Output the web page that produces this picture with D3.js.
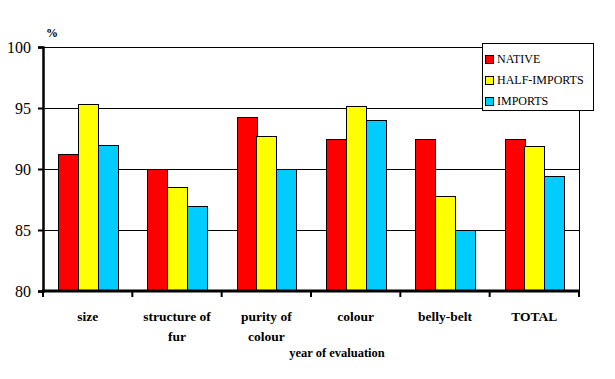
<!DOCTYPE html>
<html><head><meta charset="utf-8">
<script src="https://cdn.jsdelivr.net/npm/d3@7"></script>
<style>body{margin:0;background:#fff}svg{display:block}
svg text{font-family:"Liberation Serif","Times New Roman","DejaVu Serif",serif;fill:#000}</style>
</head><body>
<script>
const categories = [["size"],["structure of","fur"],["purity of","colour"],["colour"],["belly-belt"],["TOTAL"]];
const seriesNames = ["NATIVE","HALF-IMPORTS","IMPORTS"];
const native = [91.2, 90.0, 94.3, 92.5, 92.5, 92.5];
const halfImports = [95.3, 88.5, 92.7, 95.2, 87.8, 91.9];
const imports = [92.0, 87.0, 90.0, 94.0, 85.0, 89.4];
const colors = ["#ff0000","#ffff00","#00ccff"];
const yTicks = [80,85,90,95,100];
const seriesValues = [native, halfImports, imports];

const W=615,H=379;
const m={l:43,r:579,t:47,b:291};
const svg=d3.select("body").append("svg").attr("width",W).attr("height",H);

const x=d3.scaleBand().domain(d3.range(categories.length)).range([m.l,m.r]).paddingInner(0).paddingOuter(0);
const y=d3.scaleLinear().domain([80,100]).range([m.b,m.t]);
const xs=d3.scaleBand().domain(d3.range(3)).range([0,x.bandwidth()]).paddingInner(0).paddingOuter(0.77);

// gridlines
svg.append("g").selectAll("line").data(yTicks.slice(1)).join("line")
 .attr("x1",m.l).attr("x2",m.r).attr("y1",d=>Math.round(y(d))+0.5).attr("y2",d=>Math.round(y(d))+0.5)
 .attr("stroke","#000").attr("stroke-width",1);
// right border
svg.append("line").attr("x1",m.r+0.5).attr("x2",m.r+0.5).attr("y1",m.t).attr("y2",m.b).attr("stroke","#000");

// bars
const g=svg.append("g");
seriesValues.forEach((vals,si)=>{
  g.selectAll(null).data(vals).join("rect")
   .attr("x",(d,i)=>Math.round(x(i)+xs(si))+0.5)
   .attr("y",d=>Math.round(y(d))+0.5)
   .attr("width",Math.round(xs.bandwidth()))
   .attr("height",d=>Math.round(y(80))-Math.round(y(d)))
   .attr("fill",colors[si]).attr("stroke","#000").attr("stroke-width",1);
});

// y axis
const ya=svg.append("g").attr("transform",`translate(${m.l},0)`)
 .call(d3.axisLeft(y).tickValues(yTicks).tickSize(5).tickPadding(7));
ya.attr("font-family",null);
ya.select(".domain").attr("stroke-width",2.5);
ya.selectAll(".tick line").attr("stroke-width",2);
ya.selectAll("text").style("font-size","16px");

// x axis
const xa=svg.append("g").attr("transform",`translate(0,${m.b})`);
xa.append("line").attr("x1",m.l-1).attr("x2",m.r+1).attr("y1",0).attr("y2",0).attr("stroke","#000").attr("stroke-width",3);
const bounds=d3.range(categories.length+1).map(i=> i<categories.length? x(i): x(categories.length-1)+x.bandwidth());
xa.selectAll(".tk").data(bounds).join("line").attr("class","tk")
 .attr("x1",d=>d).attr("x2",d=>d).attr("y1",0).attr("y2",6).attr("stroke","#000").attr("stroke-width",2);

// category labels
categories.forEach((lines,i)=>{
  const t=svg.append("text").attr("x",x(i)+x.bandwidth()/2).attr("y",321)
   .attr("text-anchor","middle").style("font-weight","bold").style("font-size","13.5px");
  lines.forEach((ln,j)=>t.append("tspan").attr("x",x(i)+x.bandwidth()/2).attr("dy",j?20:0).text(ln));
});
svg.append("text").attr("x",337).attr("y",357).attr("text-anchor","middle").style("font-weight","bold").style("font-size","12.5px").text("year of evaluation");
svg.append("text").attr("x",46).attr("y",37).style("font-weight","bold").style("font-size","12px").text("%");

// legend
const lg=svg.append("g");
lg.append("rect").attr("x",482.5).attr("y",43.5).attr("width",111).attr("height",67).attr("fill","#fff").attr("stroke","#000");
seriesNames.forEach((n,i)=>{
  const yy=63+i*21;
  lg.append("rect").attr("x",485.5).attr("y",yy-7.5).attr("width",8).attr("height",8).attr("fill",colors[i]).attr("stroke","#000");
  lg.append("text").attr("x",497).attr("y",yy).style("font-size","12px").text(n);
});
</script>
</body></html>
